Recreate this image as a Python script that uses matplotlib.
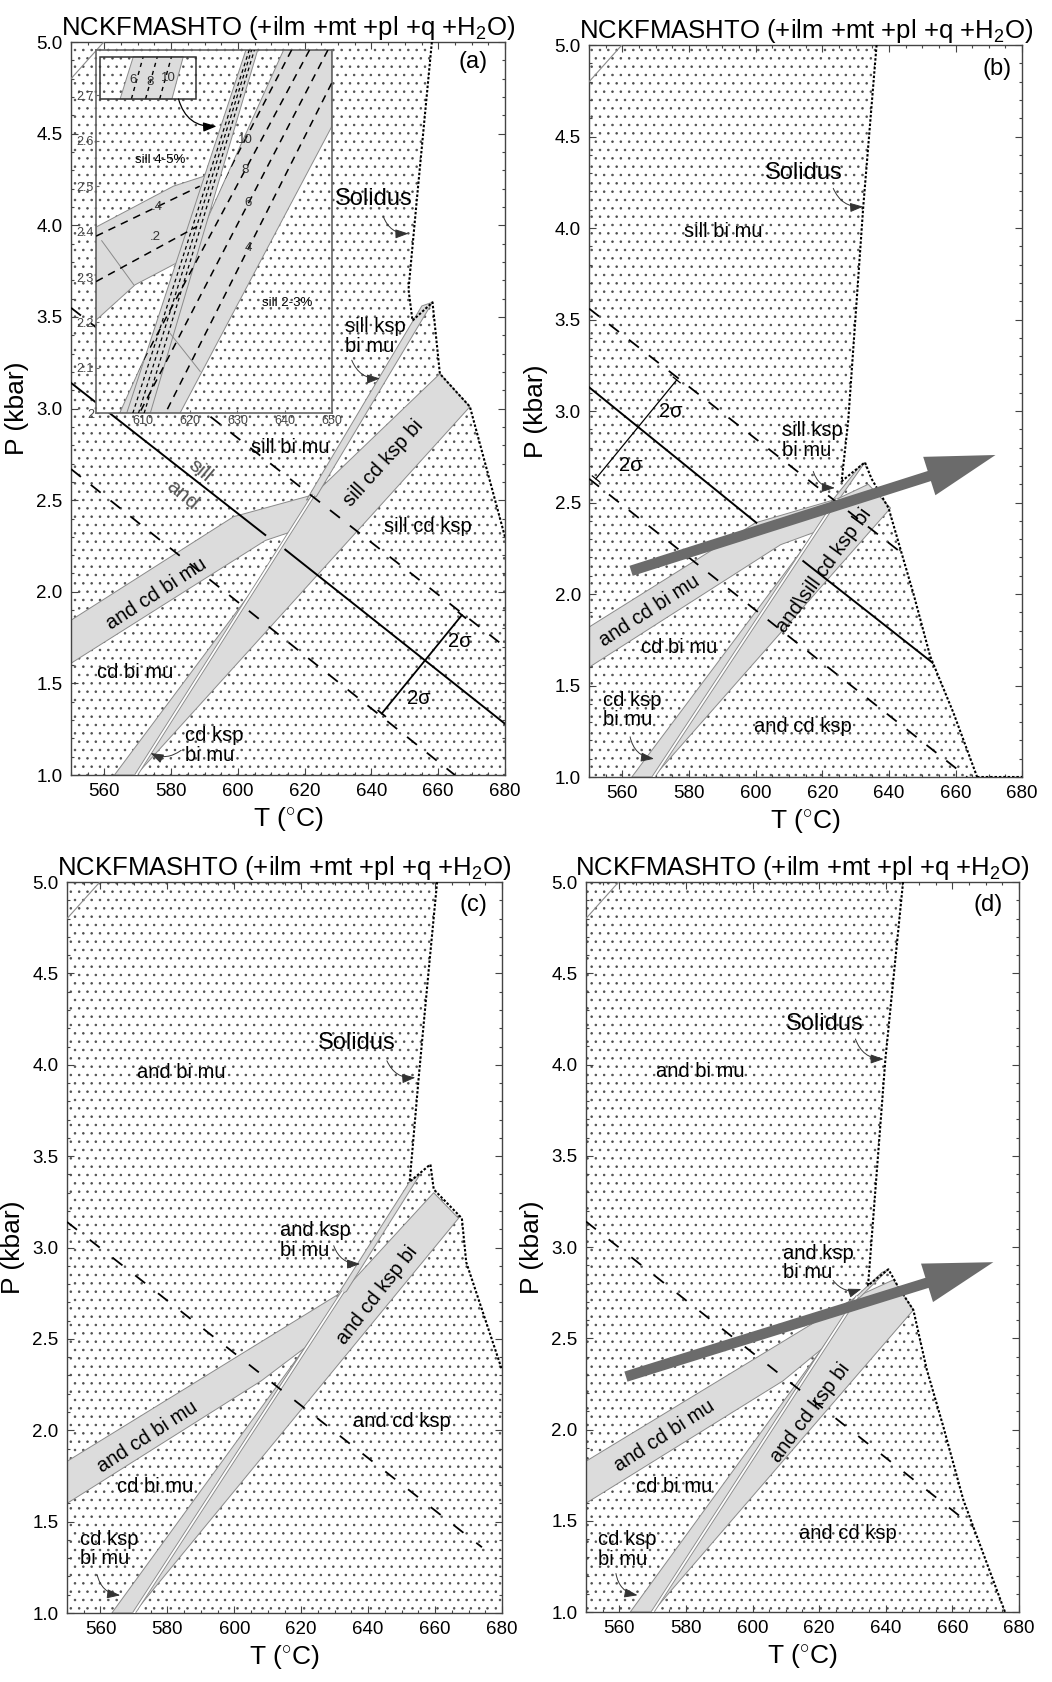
import numpy as np
import matplotlib
matplotlib.use("Agg")
import matplotlib.pyplot as plt
from matplotlib.patches import Polygon
from matplotlib.ticker import MultipleLocator, FixedLocator, FixedFormatter

plt.rcParams["font.family"] = ["Liberation Sans", "DejaVu Sans"]
plt.rcParams["mathtext.fontset"] = "custom"
plt.rcParams["mathtext.rm"] = "Liberation Sans"
plt.rcParams["mathtext.it"] = "Liberation Sans:italic"
plt.rcParams["hatch.linewidth"] = 0.6

TITLE = "NCKFMASHTO (+ilm +mt +pl +q +H$_2$O)"
T_RANGE = (550, 680)
P_RANGE = (1.0, 5.0)

BAND = "#dcdcdc"
BAND_EDGE = "#8a8a8a"
DOTS = "#505050"
FS = 14.5      # field labels
FS_SOL = 17    # "Solidus"

# thin ky/sill line in the top left corner of every panel
ky_sill = [(550, 4.80), (559.8, 5.0)]

# ---------------- panel (a) ----------------
solidus_a = [(658.1, 5.0), (653.6, 4.14), (651.1, 3.65), (652.3, 3.48), (658.3, 3.58),
             (660.5, 3.19), (669.5, 3.01), (680.0, 2.30)]
acbm_a = [(550, 1.61), (608.2, 2.28), (618.0, 2.34), (622.7, 2.53), (598.7, 2.41), (550, 1.845)]
wedge_a = [(563.0, 1.0), (569.5, 1.0), (618.0, 2.34)]
wide_a = [(569.5, 1.0), (622.7, 2.53), (660.5, 3.19), (669.5, 3.01)]
thin_a = [(620.5, 2.50), (655.1, 3.56), (658.3, 3.58), (623.5, 2.52)]
strip_a = [(569.5, 1.0), (622.7, 2.53)]
andsill_a = [[(550, 3.14), (608.2, 2.31)], [(614.2, 2.23), (680, 1.28)]]
dash_a = [[(550, 3.55), (680, 1.70)], [(550, 2.67), (665, 1.0)]]
sigma_a = [(643.1, 1.336), (667.1, 1.873)]
labels_a = [("Solidus", 640.6, 4.146, FS_SOL, 0, "center"),
            ("sill ksp\nbi mu", 632.1, 3.395, FS, 0, "left"),
            ("sill bi mu", 615.7, 2.79, FS, 0, "center"),
            ("sill cd ksp", 657.0, 2.355, FS, 0, "center"),
            ("sill cd ksp bi", 643.6, 2.70, FS, 48, "center"),
            ("and cd bi mu", 575.7, 1.99, FS, 33, "center"),
            ("cd bi mu", 569.3, 1.56, FS, 0, "center"),
            ("cd ksp\nbi mu", 584.2, 1.16, FS, 0, "left"),
            ("2σ", 666.6, 1.727, FS, 0, "center"),
            ("2σ", 654.1, 1.418, FS, 0, "center")]
pointers_a = [((643.6, 4.046), (651.1, 3.955)), ((634.1, 3.264), (642.6, 3.164)),
              ((583.0, 1.135), (573.8, 1.12))]

# inset of panel (a)
inset_left_band = [(600, 2.41), (616.4, 2.50), (623.8, 2.525), (618.2, 2.337), (608.3, 2.283), (600, 2.205)]
inset_narrow = [(606.5, 2.0), (611.5, 2.0), (634.3, 2.8), (631.8, 2.8)]
inset_wide = [(605.0, 2.0), (617.8, 2.0), (650, 2.631), (650, 2.8), (639.8, 2.8)]
inset_iso = [[(641.5, 2.8), (601.5, 2.0)], [(645.3, 2.8), (604.0, 2.0)],
             [(649.2, 2.8), (609.2, 2.0)], [(650, 2.727), (614.7, 2.0)]]
inset_iso_labels = [("10", 631.6, 2.602), ("8", 631.6, 2.536), ("6", 632.3, 2.462), ("4", 632.3, 2.363)]
inset_narrow_iso = [[(607.8, 2.0), (632.5, 2.8)], [(609.0, 2.0), (633.0, 2.8)], [(610.2, 2.0), (633.6, 2.8)]]
inset_left_iso = [[(600, 2.39), (622, 2.50)], [(600, 2.29), (621.4, 2.411)]]
inset_left_labels = [(".4", 612.9, 2.455), (".2", 612.5, 2.389)]
inset_grey_lines = [[(601.2, 2.38), (608.0, 2.283)], [(615.7, 2.176), (622.1, 2.092)]]
zoom_box = [(600.8, 2.692), (600.8, 2.785), (621.3, 2.785), (621.3, 2.692)]
zoom_band = [(605.1, 2.692), (616.1, 2.692), (618.5, 2.785), (607.9, 2.785)]
zoom_iso = [[(607.5, 2.692), (610.0, 2.785)], [(610.5, 2.692), (613.0, 2.785)], [(613.5, 2.692), (616.0, 2.785)]]
zoom_labels = [("6", 607.9, 2.734), ("8", 611.5, 2.730), ("10", 615.4, 2.738)]
inset_text = [("sill 4-5%", 613.6, 2.558), ("sill 2-3%", 640.5, 2.242)]

# ---------------- panel (b) ----------------
solidus_b = [(636.3, 5.0), (632.3, 4.117), (627.8, 2.95), (625.8, 2.616), (632.8, 2.72),
             (634.8, 2.63), (639.9, 2.47), (643.4, 2.25), (647.4, 2.0), (652.4, 1.66),
             (659.4, 1.35), (666.5, 1.0)]
solidus_b_floor = [(666.5, 1.0), (680, 1.0)]
acbm_b = [(550, 1.60), (607.5, 2.27), (618.0, 2.34), (624.5, 2.52), (600, 2.39), (550, 1.82)]
wedge_b = [(562.8, 1.0), (569.3, 1.0), (618.0, 2.34)]
wide_b = [(569.3, 1.0), (624.5, 2.52), (633.8, 2.60), (640.5, 2.47)]
thin_b = [(622.5, 2.50), (631.3, 2.70), (632.8, 2.72), (625.5, 2.53)]
strip_b = [(569.3, 1.0), (624.5, 2.52)]
andsill_b = [[(550, 3.13), (600.2, 2.39)], [(614.3, 2.18), (680, 1.24)]]
dash_b = [[(550, 3.56), (680, 1.71)], [(550, 2.63), (663.5, 1.0)]]
sigma_b = [(552.0, 2.63), (576.3, 3.17)]
labels_b = [("Solidus", 614.3, 4.30, FS_SOL, 0, "center"),
            ("sill bi mu", 590.3, 3.98, FS, 0, "center"),
            ("sill ksp\nbi mu", 607.8, 2.838, FS, 0, "left"),
            ("and cd bi mu", 568.1, 1.91, FS, 33, "center"),
            ("cd bi mu", 577.1, 1.71, FS, 0, "center"),
            ("cd ksp\nbi mu", 554.3, 1.366, FS, 0, "left"),
            ("and cd ksp", 614.3, 1.275, FS, 0, "center"),
            ("and\\sill cd ksp bi", 620.5, 2.13, FS, 54, "center"),
            ("2σ", 574.6, 3.0, FS, 0, "center"),
            ("2σ", 562.5, 2.70, FS, 0, "center")]
pointers_b = [((623.3, 4.217), (632.3, 4.117)), ((617.3, 2.67), (623.8, 2.58)),
              ((562.3, 1.22), (569.5, 1.10))]
path_b = [(562.6, 2.127), (672.0, 2.76)]

# ---------------- panel (c) ----------------
solidus_c = [(660.6, 5.0), (658.1, 4.52), (655.1, 3.93), (652.4, 3.36), (658.6, 3.455),
             (659.6, 3.318), (668.0, 3.16), (669.3, 2.92), (680, 2.33)]
acbm_c = [(550, 1.60), (608.0, 2.27), (621.0, 2.45), (632.5, 2.76), (550, 1.83)]
wedge_c = [(563.4, 1.0), (570.0, 1.0), (621.0, 2.45)]
wide_c = [(570.0, 1.0), (632.5, 2.76), (659.6, 3.30), (667.0, 3.16)]
thin_c = [(630.5, 2.73), (652.4, 3.36), (655.5, 3.40), (633.5, 2.76)]
strip_c = [(570.0, 1.0), (632.5, 2.76)]
dash_c = [[(550, 3.14), (674, 1.36)]]
labels_c = [("Solidus", 636.6, 4.12, FS_SOL, 0, "center"),
            ("and bi mu", 584.2, 3.96, FS, 0, "center"),
            ("and ksp\nbi mu", 613.7, 3.04, FS, 0, "left"),
            ("and cd ksp bi", 642.6, 2.74, FS, 52, "center"),
            ("and cd bi mu", 573.9, 1.966, FS, 33, "center"),
            ("cd bi mu", 576.4, 1.69, FS, 0, "center"),
            ("and cd ksp", 650.1, 2.05, FS, 0, "center"),
            ("cd ksp\nbi mu", 553.9, 1.35, FS, 0, "left")]
pointers_c = [((645.6, 4.022), (654.1, 3.93)), ((629.7, 3.01), (637.6, 2.91)),
              ((559.0, 1.21), (565.9, 1.097))]

# ---------------- panel (d) ----------------
solidus_d = [(645.2, 5.0), (639.9, 4.03), (634.7, 2.79), (640.8, 2.878), (643.8, 2.78),
             (648.3, 2.655), (652.3, 2.33), (657.3, 2.015), (663.3, 1.614), (675.8, 1.0)]
acbm_d = [(550, 1.596), (609.1, 2.266), (620.7, 2.44), (631.5, 2.73), (550, 1.826)]
wedge_d = [(563.3, 1.0), (570.0, 1.0), (620.7, 2.44)]
wide_d = [(570.0, 1.0), (631.5, 2.73), (642.3, 2.82), (648.3, 2.655)]
thin_d = [(629.5, 2.70), (638.8, 2.86), (640.8, 2.878), (632.0, 2.72)]
strip_d = [(570.0, 1.0), (631.5, 2.73)]
dash_d = [[(550, 3.14), (680, 1.27)]]
labels_d = [("Solidus", 621.8, 4.22, FS_SOL, 0, "center"),
            ("and bi mu", 584.3, 3.96, FS, 0, "center"),
            ("and ksp\nbi mu", 609.2, 2.912, FS, 0, "left"),
            ("and cd ksp bi", 617.2, 2.09, FS, 53, "center"),
            ("and cd bi mu", 573.6, 1.963, FS, 33, "center"),
            ("cd bi mu", 576.6, 1.688, FS, 0, "center"),
            ("and cd ksp", 628.7, 1.431, FS, 0, "center"),
            ("cd ksp\nbi mu", 553.7, 1.344, FS, 0, "left")]
pointers_d = [((630.9, 4.14), (639.4, 4.03)), ((624.2, 2.817), (632.7, 2.77)),
              ((559.0, 1.211), (565.5, 1.092))]
path_d = [(562.0, 2.29), (672.3, 2.917)]

panel_pos = {"a": [0.0675, 0.5392, 0.4125, 0.4358],
             "b": [0.5600, 0.5380, 0.4116, 0.4352],
             "c": [0.0637, 0.0410, 0.4135, 0.4346],
             "d": [0.5570, 0.0416, 0.4116, 0.4340]}
tag_pos = {"a": (0.927, 0.973), "b": (0.942, 0.968), "c": (0.934, 0.969), "d": (0.929, 0.968)}
inset_pos = [0.0913, 0.7543, 0.224, 0.216]


fig = plt.figure(figsize=(10.52, 16.82), dpi=100)


def frame(ax, tag):
    ax.set_xlim(*T_RANGE)
    ax.set_ylim(*P_RANGE)
    ax.xaxis.set_major_locator(MultipleLocator(20))
    ax.xaxis.set_minor_locator(MultipleLocator(5))
    ax.yaxis.set_major_locator(MultipleLocator(0.5))
    ax.yaxis.set_minor_locator(MultipleLocator(0.1))
    ax.tick_params(which="both", direction="in", top=True, right=True, labelsize=13.5,
                   width=0.8, color="#444444")
    ax.tick_params(which="major", length=5, pad=6)
    ax.tick_params(which="minor", length=2.5)
    for s in ax.spines.values():
        s.set_linewidth(1.0)
        s.set_color("#444444")
    ax.set_xlabel("T ($^{\\circ}$C)", fontsize=19, labelpad=3)
    ax.set_ylabel("P (kbar)", fontsize=19, labelpad=5)
    ax.set_title(TITLE, fontsize=18.5, pad=5)
    ax.text(*tag_pos[tag], "(" + tag + ")", transform=ax.transAxes, fontsize=17,
            ha="center", va="center", zorder=9)


def stipple(ax, pts):
    patch = Polygon(pts, closed=True, facecolor="white", edgecolor=DOTS, linewidth=0,
                    hatch="..", zorder=1)
    ax.add_patch(patch)
    return patch


def band(ax, pts, fc=BAND, z=2):
    patch = Polygon(pts, closed=True, facecolor=fc, edgecolor=BAND_EDGE, linewidth=0.7, zorder=z)
    ax.add_patch(patch)
    return patch


def seg_line(ax, seg, clip=None, **kw):
    xs, ys = zip(*seg)
    ln, = ax.plot(xs, ys, **kw)
    if clip is not None:
        ln.set_clip_path(clip)
    return ln


def white_strip(ax, seg):
    seg_line(ax, seg, color=BAND_EDGE, lw=2.6, zorder=3, solid_capstyle="butt")
    seg_line(ax, seg, color="white", lw=1.3, zorder=3.1, solid_capstyle="butt")


def put_labels(ax, labels):
    for s, t, p, size, rot, ha in labels:
        ax.text(t, p, s, fontsize=size, rotation=rot, ha=ha, va="center",
                rotation_mode="anchor", zorder=6, linespacing=1.05)


def pointer(ax, start, end, rad=0.35):
    ax.annotate("", xy=end, xytext=start, zorder=7,
                arrowprops=dict(arrowstyle="-|>,head_length=0.8,head_width=0.28",
                                mutation_scale=10, connectionstyle=f"arc3,rad={rad}",
                                color="#333333", lw=0.7, shrinkA=0, shrinkB=0))


def path_arrow(ax, seg):
    ax.annotate("", xy=seg[1], xytext=seg[0], zorder=8,
                arrowprops=dict(arrowstyle="simple,head_length=2.5,head_width=1.45,tail_width=0.38",
                                mutation_scale=20, facecolor="#6b6b6b", edgecolor="none",
                                shrinkA=0, shrinkB=0))


def sigma_bar(ax, seg, lw=1.3, cap_px=4.5):
    seg_line(ax, seg, color="black", lw=lw, zorder=4)
    d0 = ax.transData.transform(seg[0])
    d1 = ax.transData.transform(seg[1])
    v = d1 - d0
    n = np.array([-v[1], v[0]]) / np.hypot(*v)
    inv = ax.transData.inverted()
    for d in (d0, d1):
        a = inv.transform(d + n * cap_px)
        b = inv.transform(d - n * cap_px)
        ax.plot([a[0], b[0]], [a[1], b[1]], color="black", lw=lw, zorder=4)


def solidus(ax, pts):
    seg_line(ax, pts, color="black", lw=1.5, dashes=(1.2, 0.9), zorder=5)


def panel(tag, sol, acbm, wedge, wide, thin, strip, closing):
    ax = fig.add_axes(panel_pos[tag])
    frame(ax, tag)
    clip = stipple(ax, [(550, 1.0), (550, 5.0)] + sol + closing)
    band(ax, acbm)
    band(ax, wedge)
    band(ax, wide)
    band(ax, thin)
    white_strip(ax, strip)
    seg_line(ax, ky_sill, color="#8a8a8a", lw=0.8, zorder=3)
    solidus(ax, sol)
    return ax, clip


# (a)
ax_a, clip_a = panel("a", solidus_a, acbm_a, wedge_a, wide_a, thin_a, strip_a, [(680, 1.0)])
for seg in andsill_a:
    seg_line(ax_a, seg, clip_a, color="black", lw=1.4, zorder=4)
for seg in dash_a:
    seg_line(ax_a, seg, clip_a, color="black", lw=1.3, dashes=(7, 7), zorder=4)
sigma_bar(ax_a, sigma_a)
put_labels(ax_a, labels_a)
ax_a.text(588.7, 2.66, "sill", fontsize=15, rotation=-40, color="#555555", ha="center",
          va="center", rotation_mode="anchor", zorder=6)
ax_a.text(583.2, 2.53, "and", fontsize=15, rotation=-40, color="#555555", ha="center",
          va="center", rotation_mode="anchor", zorder=6)
for s, e in pointers_a:
    pointer(ax_a, s, e, rad=0.35 if s[0] < e[0] else -0.3)

# inset
axi = fig.add_axes(inset_pos)
axi.set_xlim(600, 650)
axi.set_ylim(2.0, 2.8)
axi.set_facecolor("white")
stipple(axi, [(600, 2.0), (600, 2.8), (650, 2.8), (650, 2.0)])
band(axi, inset_left_band)
wide_clip = band(axi, inset_wide)
narrow_clip = band(axi, inset_narrow, z=2.5)
for seg in inset_grey_lines:
    seg_line(axi, seg, color="#8a8a8a", lw=0.7, zorder=3)
for seg in inset_iso:
    seg_line(axi, seg, wide_clip, color="black", lw=1.1, dashes=(5, 4), zorder=4)
for seg in inset_narrow_iso:
    seg_line(axi, seg, narrow_clip, color="black", lw=0.9, dashes=(3, 2.5), zorder=4)
for seg in inset_left_iso:
    seg_line(axi, seg, color="black", lw=1.1, dashes=(5, 4), zorder=4)
for s, t, p in inset_iso_labels + inset_left_labels:
    axi.text(t, p, s, fontsize=9.5, ha="center", va="center", color="#333333", zorder=6)
for s, t, p in inset_text:
    axi.text(t, p, s, fontsize=9.5, ha="center", va="center", zorder=6)
stipple(axi, zoom_box).set_zorder(5)
zb = Polygon(zoom_band, closed=True, facecolor=BAND, edgecolor=BAND_EDGE, linewidth=0.7, zorder=5.1)
axi.add_patch(zb)
for seg in zoom_iso:
    seg_line(axi, seg, color="black", lw=1.0, dashes=(3, 3), zorder=5.2)
for s, t, p in zoom_labels:
    axi.text(t, p, s, fontsize=9.5, ha="center", va="center", color="#333333", zorder=5.3)
axi.add_patch(Polygon(zoom_box, closed=True, fill=False, edgecolor="#333333", linewidth=1.1, zorder=5.4))
axi.annotate("", xy=(625.6, 2.632), xytext=(617.5, 2.692), zorder=7,
             arrowprops=dict(arrowstyle="-|>,head_length=0.8,head_width=0.28", mutation_scale=10,
                             connectionstyle="arc3,rad=0.4", color="black", lw=0.9,
                             shrinkA=0, shrinkB=0))
axi.xaxis.set_major_locator(FixedLocator([610, 620, 630, 640, 650]))
axi.yaxis.set_major_locator(FixedLocator([2.0, 2.1, 2.2, 2.3, 2.4, 2.5, 2.6, 2.7]))
axi.yaxis.set_major_formatter(FixedFormatter(["2", "2.1", "2.2", "2.3", "2.4", "2.5", "2.6", "2.7"]))
axi.tick_params(direction="in", length=2, labelsize=9, labelcolor="#444444", pad=1.5,
                color="#666666")
for s in axi.spines.values():
    s.set_linewidth(1.2)
    s.set_color("#666666")

# (b)
ax_b, clip_b = panel("b", solidus_b, acbm_b, wedge_b, wide_b, thin_b, strip_b, [])
solidus(ax_b, solidus_b_floor)
for seg in andsill_b:
    seg_line(ax_b, seg, clip_b, color="black", lw=1.4, zorder=4)
for seg in dash_b:
    seg_line(ax_b, seg, clip_b, color="black", lw=1.3, dashes=(7, 7), zorder=4)
sigma_bar(ax_b, sigma_b, lw=0.9)
put_labels(ax_b, labels_b)
for s, e in pointers_b:
    pointer(ax_b, s, e)
path_arrow(ax_b, path_b)

# (c)
ax_c, clip_c = panel("c", solidus_c, acbm_c, wedge_c, wide_c, thin_c, strip_c, [(680, 1.0)])
for seg in dash_c:
    seg_line(ax_c, seg, clip_c, color="black", lw=1.3, dashes=(7, 9), zorder=4)
put_labels(ax_c, labels_c)
for s, e in pointers_c:
    pointer(ax_c, s, e)

# (d)
ax_d, clip_d = panel("d", solidus_d, acbm_d, wedge_d, wide_d, thin_d, strip_d, [])
for seg in dash_d:
    seg_line(ax_d, seg, clip_d, color="black", lw=1.3, dashes=(7, 9), zorder=4)
put_labels(ax_d, labels_d)
for s, e in pointers_d:
    pointer(ax_d, s, e)
path_arrow(ax_d, path_d)

fig.savefig("out.png", dpi=100)
